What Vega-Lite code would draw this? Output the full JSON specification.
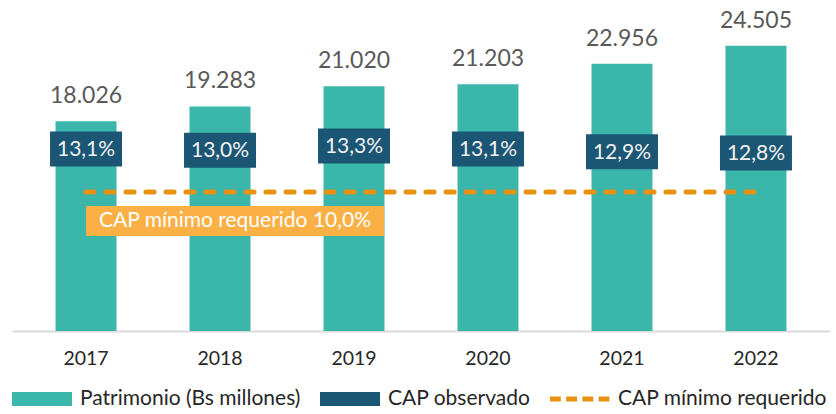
{
  "$schema": "https://vega.github.io/schema/vega-lite/v6.json",
  "width": 818,
  "height": 326,
  "padding": {"left": 12, "top": 5, "right": 6, "bottom": 0},
  "data": {"values": [
    {"year": "2017", "pat": 18026, "cap": 0.131, "min": 0.10},
    {"year": "2018", "pat": 19283, "cap": 0.130, "min": 0.10},
    {"year": "2019", "pat": 21020, "cap": 0.133, "min": 0.10},
    {"year": "2020", "pat": 21203, "cap": 0.131, "min": 0.10},
    {"year": "2021", "pat": 22956, "cap": 0.129, "min": 0.10},
    {"year": "2022", "pat": 24505, "cap": 0.128, "min": 0.10}
  ]},
  "config": {
    "font": "Lato",
    "view": {"stroke": null},
    "locale": {"number": {"decimal": ",", "thousands": ".", "grouping": [3], "currency": ["", ""]}},
    "legend": {
      "orient": "bottom",
      "direction": "horizontal",
      "title": null,
      "offset": 1,
      "symbolType": "M-1,-0.23H1V0.23H-1Z",
      "symbolSize": 3600,
      "symbolStrokeWidth": 0,
      "symbolOpacity": 1,
      "labelFontSize": 21,
      "labelColor": "#262626",
      "labelOffset": 8,
      "columnPadding": 19,
      "labelLimit": 400
    }
  },
  "encoding": {
    "x": {
      "field": "year",
      "type": "ordinal",
      "scale": {"paddingInner": 0.545, "paddingOuter": 0.325},
      "axis": {
        "title": null,
        "labelAngle": 0,
        "labelFontSize": 19.5,
        "labelColor": "#262626",
        "ticks": false,
        "domainColor": "#D9D9D9",
        "domainWidth": 2,
        "labelPadding": 18
      }
    }
  },
  "layer": [
    {
      "mark": {"type": "bar", "color": "#3BB6AB"},
      "encoding": {
        "y": {"field": "pat", "type": "quantitative", "scale": {"domain": [0, 28000]}, "axis": null},
        "color": {
          "datum": "Patrimonio (Bs millones)",
          "type": "nominal",
          "scale": {
            "domain": ["Patrimonio (Bs millones)", "CAP observado", "CAP mínimo requerido"],
            "range": ["#3BB6AB", "#1B5675", "#E8900F"]
          },
          "legend": {
            "encode": {
              "symbols": {
                "update": {
                  "shape": [
                    {"test": "datum.value === 'CAP mínimo requerido'", "value": "M-1,-0.08H-0.64V0.08H-1Z M-0.46,-0.08H-0.1V0.08H-0.46Z M0.08,-0.08H0.44V0.08H0.08Z M0.62,-0.08H0.98V0.08H0.62Z"},
                    {"value": "M-1,-0.23H1V0.23H-1Z"}
                  ]
                }
              }
            }
          }
        }
      }
    },
    {
      "mark": {"type": "text", "fontSize": 23, "color": "#595959", "baseline": "alphabetic", "dy": -18},
      "encoding": {
        "y": {"field": "pat", "type": "quantitative", "scale": {"domain": [0, 28000]}, "axis": null},
        "text": {"field": "pat", "type": "quantitative", "format": ",.0f"}
      }
    },
    {
      "mark": {"type": "line", "color": "#E8900F", "strokeWidth": 5, "strokeDash": [8, 12], "strokeCap": "round"},
      "encoding": {
        "y": {"field": "min", "type": "quantitative", "scale": {"domain": [0, 0.2345]}, "axis": null}
      }
    },
    {
      "data": {"values": [{"label": "CAP mínimo requerido 10,0%", "value": 0.10, "from": "2017", "to": "2019"}]},
      "mark": {"type": "rect", "color": "#FAB044", "yOffset": 14, "y2Offset": 44, "x2Offset": 30},
      "encoding": {
        "x": {"field": "from", "type": "ordinal", "bandPosition": 0.5},
        "x2": {"field": "to", "bandPosition": 0.5},
        "y": {"field": "value", "type": "quantitative", "scale": {"domain": [0, 0.2345]}, "axis": null},
        "y2": {"field": "value"}
      }
    },
    {
      "data": {"values": [{"label": "CAP mínimo requerido 10,0%", "value": 0.10, "from": "2017", "to": "2019"}]},
      "mark": {"type": "text", "align": "left", "baseline": "middle", "dx": 13, "dy": 29, "fontSize": 21, "color": "#FFFFFF"},
      "encoding": {
        "x": {"field": "from", "type": "ordinal", "bandPosition": 0.5},
        "y": {"field": "value", "type": "quantitative", "scale": {"domain": [0, 0.2345]}, "axis": null},
        "text": {"field": "label"}
      }
    },
    {
      "mark": {"type": "point", "filled": true, "opacity": 1, "shape": "M-1,-0.486H1V0.486H-1Z", "size": 5184, "color": "#1B5675", "strokeWidth": 0},
      "encoding": {
        "y": {"field": "cap", "type": "quantitative", "scale": {"domain": [0, 0.2345]}, "axis": null}
      }
    },
    {
      "mark": {"type": "text", "fontSize": 21, "color": "#F2F2F2", "baseline": "middle", "dy": 1},
      "encoding": {
        "y": {"field": "cap", "type": "quantitative", "scale": {"domain": [0, 0.2345]}, "axis": null},
        "text": {"field": "cap", "type": "quantitative", "format": ".1%"}
      }
    }
  ],
  "resolve": {"scale": {"y": "independent"}}
}
